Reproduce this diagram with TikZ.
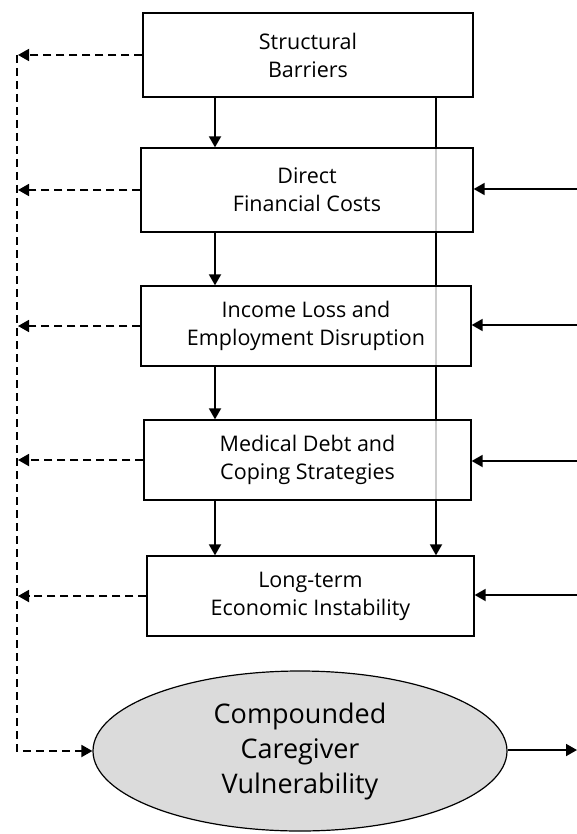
\documentclass[tikz,border=0pt]{standalone}
\usepackage{fontspec}
\setmainfont{Open Sans}
\usetikzlibrary{arrows.meta,backgrounds,shapes.geometric}
\begin{document}
\begin{tikzpicture}[x=1pt,y=-1pt,
  box/.style n args={2}{draw, line width=1.3pt, fill=white, fill opacity=0.8, text opacity=1,
    minimum width=#1, minimum height=#2, align=center, inner sep=0pt,
    font=\fontsize{21.5}{28}\selectfont},
  arr/.style={line width=1.8pt, -{Triangle[length=11pt,width=12pt]}},
  darr/.style={line width=1.8pt, dash pattern=on 8pt off 5pt, -{Triangle[length=11pt,width=12pt]}}]
\useasboundingbox (0,0) rectangle (577,834);
\node[box={330pt}{84pt}] (B1) at (308,55) {Structural\\Barriers};
\node[box={332pt}{84pt}] (B2) at (307,190) {Direct\\Financial Costs};
\node[box={330pt}{80pt}] (B3) at (306,326) {Income Loss and\\Employment Disruption};
\node[box={327pt}{80pt}] (B4) at (307.5,460) {Medical Debt and\\Coping Strategies};
\node[box={327pt}{80pt}] (B5) at (310.5,596) {Long-term\\Economic Instability};
\node[ellipse, draw, line width=1.2pt, fill=black!14, minimum width=414pt, minimum height=160pt,
  inner sep=0pt, align=center, font=\fontsize{27}{35}\selectfont] (E) at (300,751)
  {Compounded\\Caregiver\\Vulnerability};
\coordinate (X) at (215,0);
\coordinate (V) at (436,0);
\begin{scope}[on background layer]
  \draw[arr] (B1.south -| V) -- (B5.north -| V);
\end{scope}
\draw[arr] (B1.south -| X) -- (B2.north -| X);
\draw[arr] (B2.south -| X) -- (B3.north -| X);
\draw[arr] (B3.south -| X) -- (B4.north -| X);
\draw[arr] (B4.south -| X) -- (B5.north -| X);
% right inputs
\coordinate (R2) at (577,189);
\coordinate (R3) at (577,325);
\coordinate (R4) at (577,461);
\coordinate (R5) at (577,595);
\coordinate (RE) at (577,750);
\draw[arr] (R2) -- (B2.east |- R2);
\draw[arr] (R3) -- (B3.east |- R3);
\draw[arr] (R4) -- (B4.east |- R4);
\draw[arr] (R5) -- (B5.east |- R5);
\draw[arr] (E.east |- RE) -- (RE);
% left dashed feedback
\coordinate (L) at (18,0);
\coordinate (LB) at (17,751);
\draw[darr] (B1.west) -- (B1.west -| L);
\draw[darr] (B2.west) -- (B2.west -| L);
\draw[darr] (B3.west) -- (B3.west -| L);
\draw[darr] (B4.west) -- (B4.west -| L);
\draw[darr] (B5.west) -- (B5.west -| L);
\draw[darr] (B1.west -| LB) -- (LB) -- (E.west);
\end{tikzpicture}
\end{document}
